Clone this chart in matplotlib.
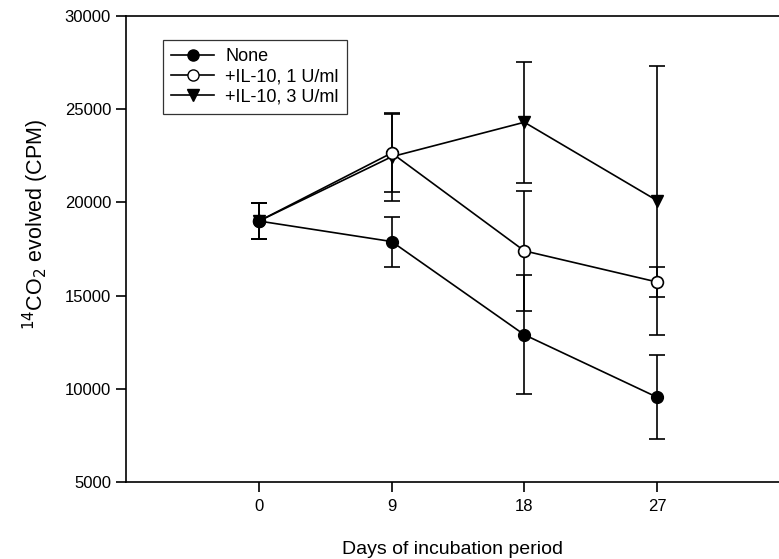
import matplotlib
matplotlib.use("Agg")
import matplotlib.pyplot as plt
from matplotlib.lines import Line2D

plt.rcParams['font.family'] = ['Liberation Sans', 'DejaVu Sans']

days = [0, 9, 18, 27]
xticklabels = ["0", "9", "18", "27"]
yticks = [5000, 10000, 15000, 20000, 25000, 30000]

none_vals = [19000, 17900, 12900, 9550]
none_err = [950, 1340, 3180, 2240]
il1_vals = [19000, 22650, 17400, 15730]
il1_err = [950, 2100, 3230, 780]
il3_vals = [19000, 22450, 24300, 20100]
il3_err = [950, 2350, 3250, 7220]

labels = ["None", "+IL-10, 1 U/ml", "+IL-10, 3 U/ml"]

W, H = 779, 559
fig = plt.figure(figsize=(W / 100, H / 100), dpi=100)
ax_l, ax_r = 126.3, 789.7
ax_t, ax_b = 16, 482
ax = fig.add_axes([ax_l / W, (H - ax_b) / H, (ax_r - ax_l) / W, (ax_b - ax_t) / H])

common = dict(color='black', lw=1.2, capsize=6, capthick=1.2, elinewidth=1.2, ms=8.5)
ax.errorbar(days, il3_vals, yerr=il3_err, marker='v', mfc='black', mec='black', **common)
ax.errorbar(days, il1_vals, yerr=il1_err, marker='o', mfc='white', mec='black', mew=1.2, **common)
ax.errorbar(days, none_vals, yerr=none_err, marker='o', mfc='black', mec='black', **common)

ax.set_xlim(-9, 36)
ax.set_ylim(5000, 30000)
ax.set_xticks(days)
ax.set_xticklabels(xticklabels)
ax.set_yticks(yticks)
ax.spines['right'].set_visible(False)
for s in ['left', 'bottom', 'top']:
    ax.spines[s].set_linewidth(1.2)
ax.tick_params(axis='both', direction='out', length=7, width=1.2, labelsize=12)
ax.tick_params(axis='x', pad=5)
ax.tick_params(axis='y', pad=4)

ax.set_xlabel("Days of incubation period", fontsize=14)
ax.xaxis.set_label_coords((452 - ax_l) / (ax_r - ax_l), -(550 - ax_b) / (ax_b - ax_t), transform=ax.transAxes)
ax.xaxis.label.set_va('center')
ax.set_ylabel("$^{14}$CO$_2$ evolved (CPM)", fontsize=15.5)
ax.yaxis.set_label_coords(-(ax_l - 36) / (ax_r - ax_l), (ax_b - 224) / (ax_b - ax_t), transform=ax.transAxes)
ax.yaxis.label.set_va('center')

handles = [
    Line2D([], [], color='black', lw=1.2, marker='o', mfc='black', mec='black', ms=8),
    Line2D([], [], color='black', lw=1.2, marker='o', mfc='white', mec='black', ms=8),
    Line2D([], [], color='black', lw=1.2, marker='v', mfc='black', mec='black', ms=8),
]
leg = ax.legend(handles, labels, loc='upper left',
                bbox_to_anchor=((163 - ax_l) / (ax_r - ax_l), (ax_b - 40) / (ax_b - ax_t)),
                fontsize=13, frameon=True, fancybox=False, edgecolor='black',
                handlelength=2.4, handletextpad=0.6, borderpad=0.45, labelspacing=0.18,
                borderaxespad=0)
leg.get_frame().set_linewidth(0.9)

fig.savefig("out.png", dpi=100)
